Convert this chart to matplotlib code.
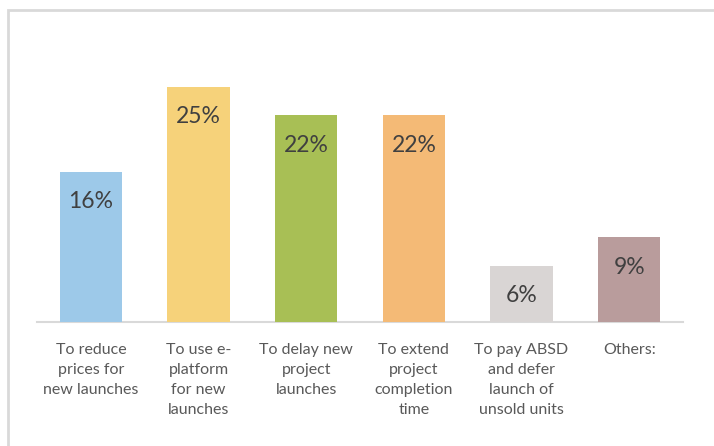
import matplotlib.pyplot as plt
from matplotlib.patches import Rectangle

categories = ["To reduce\nprices for\nnew launches",
              "To use e-\nplatform\nfor new\nlaunches",
              "To delay new\nproject\nlaunches",
              "To extend\nproject\ncompletion\ntime",
              "To pay ABSD\nand defer\nlaunch of\nunsold units",
              "Others:"]
values = [16, 25, 22, 22, 6, 9]
labels = ["16%", "25%", "22%", "22%", "6%", "9%"]
colors = ["#9DC9E9", "#F6D27A", "#A8BF55", "#F4BA76", "#D9D5D4", "#B99C9C"]

plt.rcParams['font.family'] = ['Lato', 'DejaVu Sans']

fig = plt.figure(figsize=(7.14, 4.46), dpi=100)
W, H = 714, 446

# outer chart border (top and left visible)
fig.patches.append(Rectangle((8 / W, -0.05), 1.2, (H - 10) / H + 0.05,
                             transform=fig.transFigure, fill=False,
                             edgecolor="#D9D9D9", linewidth=2))

ax = fig.add_axes([37 / W, (H - 322) / H, (683 - 37) / W, (322 - 40) / H])
x = range(len(values))
ax.bar(x, values, width=0.58, color=colors, zorder=3)
ax.set_xlim(-0.5, len(values) - 0.5)
ax.set_ylim(0, 30)

for i, v in enumerate(values):
    ax.annotate(labels[i], (i, v), xytext=(0, -30), textcoords="offset pixels",
                ha="center", va="center", fontsize=16.5, color="#404040")
    ax.annotate(categories[i], (i, 0), xytext=(0, -21), textcoords="offset pixels",
                ha="center", va="top", fontsize=11.5, color="#595959",
                linespacing=1.55)

for s in ["top", "right", "left"]:
    ax.spines[s].set_visible(False)
ax.spines["bottom"].set_color("#D9D9D9")
ax.spines["bottom"].set_linewidth(1.5)
ax.set_xticks([])
ax.set_yticks([])

fig.savefig("out.png", dpi=100)
